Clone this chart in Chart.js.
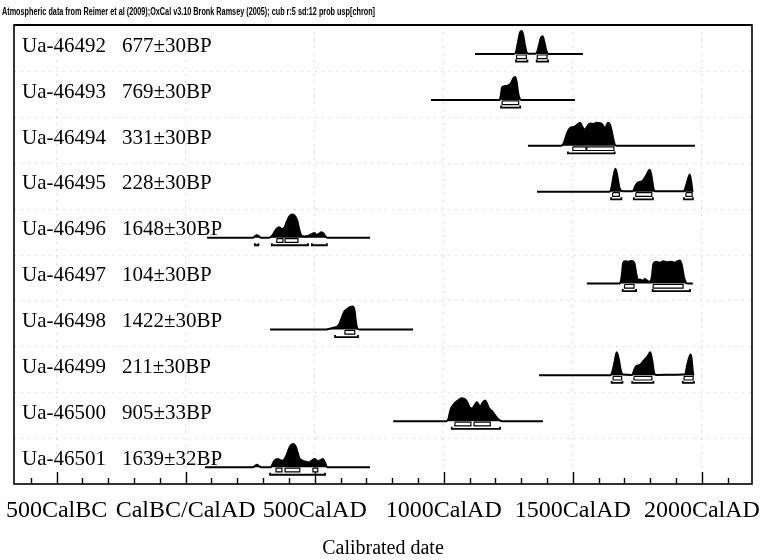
<!DOCTYPE html>
<html>
<head>
<meta charset="utf-8">
<title>Calibrated date</title>
<script src="https://cdn.jsdelivr.net/npm/chart.js@4.4.1/dist/chart.umd.min.js"></script>
<style>
  html, body { margin: 0; padding: 0; background: #fff; }
  canvas { display: block; }
</style>
</head>
<body>
<canvas id="grafica" width="760" height="560"></canvas>
<script>
// Muestras y edades radiocarbónicas
const muestras = ['Ua-46492', 'Ua-46493', 'Ua-46494', 'Ua-46495', 'Ua-46496',
                  'Ua-46497', 'Ua-46498', 'Ua-46499', 'Ua-46500', 'Ua-46501'];
const edadesBP = ['677±30BP', '769±30BP', '331±30BP', '228±30BP', '1648±30BP',
                  '104±30BP', '1422±30BP', '211±30BP', '905±33BP', '1639±32BP'];

// Eje de fechas calibradas
const añosEje = [-500, 0, 500, 1000, 1500, 2000];
const etiquetasEje = ['500CalBC', 'CalBC/CalAD', '500CalAD', '1000CalAD', '1500CalAD', '2000CalAD'];
const marcasMenores = [-600, -500, -400, -300, -200, -100, 0, 100, 200, 300, 400, 500, 600, 700,
                       800, 900, 1000, 1100, 1200, 1300, 1400, 1500, 1600, 1700, 1800, 1900, 2000, 2100];

const cabecera = 'Atmospheric data from Reimer et al (2009);OxCal v3.10 Bronk Ramsey (2005); cub r:5 sd:12 prob usp[chron]';

// Distribuciones de probabilidad [año, probabilidad relativa]
const dist46492 = [[1121,0],[1272,0],[1280,0.1],[1288,0.55],[1296,0.95],[1302,1],[1308,0.8],[1315,0.35],
                   [1322,0.05],[1330,0.01],[1352,0.01],[1360,0.05],[1368,0.35],[1376,0.7],[1383,0.77],
                   [1390,0.5],[1397,0.15],[1404,0],[1539,0]];
const dist46493 = [[950,0],[1216,0],[1221,0.2],[1226,0.55],[1236,0.6],[1248,0.62],[1260,0.72],
                   [1270,0.95],[1276,1],[1282,0.8],[1288,0.3],[1295,0.03],[1300,0],[1508,0]];
const dist46494 = [[1326,0],[1455,0],[1464,0.1],[1476,0.5],[1490,0.78],[1502,0.82],[1515,0.9],
                   [1528,1],[1538,0.8],[1547,0.7],[1556,0.85],[1567,0.97],[1580,0.95],[1592,1],
                   [1606,0.98],[1616,0.9],[1625,0.75],[1636,1],[1646,0.85],[1654,0.45],[1661,0.1],
                   [1668,0],[1973,0]];
const dist46495 = [[1361,0],[1642,0],[1650,0.2],[1657,0.65],[1665,1],[1672,0.7],[1680,0.2],[1688,0.04],
                   [1700,0.02],[1732,0.02],[1742,0.25],[1752,0.4],[1768,0.45],[1784,0.7],[1798,0.95],
                   [1806,0.6],[1812,0.15],[1820,0.02],[1930,0.02],[1938,0.25],[1946,0.55],[1953,0.75],
                   [1959,0.4],[1963,0.05],[1965,0]];
const dist46496 = [[83,0],[262,0],[268,0.06],[276,0.1],[284,0.06],[290,0],[322,0],[332,0.05],
                   [342,0.2],[352,0.38],[362,0.45],[372,0.38],[382,0.42],[392,0.7],[402,0.92],
                   [412,1],[422,0.95],[432,0.75],[440,0.35],[448,0.1],[460,0.05],[476,0.08],
                   [488,0.15],[498,0.2],[508,0.12],[516,0.16],[526,0.24],[534,0.18],[542,0.05],
                   [548,0],[714,0]];
const dist46497 = [[1554,0],[1682,0],[1689,0.3],[1695,0.9],[1702,0.97],[1716,0.95],[1728,0.98],
                   [1738,0.9],[1746,0.4],[1752,0.15],[1760,0.18],[1770,0.12],[1780,0.2],[1790,0.1],
                   [1800,0.08],[1806,0.3],[1812,0.85],[1822,0.95],[1836,0.9],[1850,0.97],[1864,0.92],
                   [1880,0.95],[1894,0.9],[1906,0.97],[1914,1],[1922,0.8],[1930,0.3],[1938,0.05],
                   [1946,0],[1965,0]];
const dist46498 = [[327,0],[540,0],[556,0.03],[572,0.08],[586,0.12],[596,0.25],[606,0.55],
                   [616,0.8],[628,0.9],[638,0.98],[646,1],[654,0.85],[660,0.3],[666,0.03],
                   [672,0],[881,0]];
const dist46499 = [[1369,0],[1646,0],[1654,0.2],[1662,0.6],[1670,1],[1678,0.7],[1686,0.2],
                   [1694,0.04],[1730,0.02],[1738,0.25],[1746,0.4],[1760,0.45],[1772,0.6],
                   [1788,0.8],[1800,1],[1808,0.6],[1815,0.1],[1822,0.02],[1900,0.03],[1935,0.05],
                   [1942,0.4],[1950,0.75],[1957,0.9],[1962,0.5],[1966,0.05],[1969,0]];
const dist46500 = [[804,0],[1010,0],[1018,0.1],[1026,0.5],[1040,0.75],[1055,0.9],[1068,1],
                   [1080,0.97],[1090,0.85],[1100,0.6],[1110,0.55],[1120,0.7],[1128,0.82],
                   [1136,0.7],[1142,0.65],[1150,0.8],[1160,0.9],[1168,0.75],[1176,0.55],
                   [1186,0.45],[1196,0.3],[1206,0.15],[1216,0.05],[1226,0],[1384,0]];
const dist46501 = [[75,0],[260,0],[268,0.05],[276,0.1],[284,0.05],[292,0],[330,0],[336,0.12],
                   [344,0.28],[356,0.35],[366,0.3],[376,0.28],[390,0.5],[404,0.9],[416,1],
                   [428,0.85],[440,0.4],[450,0.3],[462,0.25],[478,0.2],[490,0.3],[500,0.35],
                   [512,0.25],[522,0.3],[532,0.35],[540,0.2],[548,0],[714,0]];

// Rangos 68,2% y 95,4%
const r68_46492 = [[1282,1320],[1362,1400]];
const r95_46492 = [[1280,1324],[1360,1404]];
const r68_46493 = [[1226,1290]];
const r95_46493 = [[1222,1296]];
const r68_46494 = [[1500,1551],[1554,1659]];
const r95_46494 = [[1481,1662]];
const r68_46495 = [[1654,1680],[1744,1806],[1938,1962]];
const r95_46495 = [[1648,1688],[1736,1810],[1930,1965]];
const r68_46496 = [[353,377],[385,435]];
const r95_46496 = [[268,282],[334,474],[489,547]];
const r68_46497 = [[1700,1737],[1811,1927]];
const r95_46497 = [[1693,1745],[1809,1954]];
const r68_46498 = [[617,655]];
const r95_46498 = [[579,668]];
const r68_46499 = [[1656,1689],[1737,1806],[1931,1966]];
const r95_46499 = [[1650,1692],[1730,1812],[1926,1969]];
const r68_46500 = [[1043,1105],[1117,1180]];
const r95_46500 = [[1031,1218]];
const r68_46501 = [[350,373],[385,442],[493,512]];
const r95_46501 = [[327,540]];

const filas = [
    { dist: dist46492, r68: r68_46492, r95: r95_46492 },
    { dist: dist46493, r68: r68_46493, r95: r95_46493 },
    { dist: dist46494, r68: r68_46494, r95: r95_46494 },
    { dist: dist46495, r68: r68_46495, r95: r95_46495 },
    { dist: dist46496, r68: r68_46496, r95: r95_46496 },
    { dist: dist46497, r68: r68_46497, r95: r95_46497 },
    { dist: dist46498, r68: r68_46498, r95: r95_46498 },
    { dist: dist46499, r68: r68_46499, r95: r95_46499 },
    { dist: dist46500, r68: r68_46500, r95: r95_46500 },
    { dist: dist46501, r68: r68_46501, r95: r95_46501 }
];

const fuenteSerif = "'Liberation Serif', 'Times New Roman', serif";

// Cajas del rango 68% (rectángulos huecos bajo la curva)
function puntosCaja(rangos) {
    const pts = [];
    rangos.forEach(([a, b]) => {
        pts.push({x: a, y: -0.04}, {x: b, y: -0.04}, {x: b, y: -0.2}, {x: a, y: -0.2}, {x: a, y: -0.04});
        pts.push({x: b, y: null});
    });
    return pts;
}

// Corchetes del rango 95%
function puntosCorchete(rangos) {
    const pts = [];
    rangos.forEach(([a, b]) => {
        pts.push({x: a, y: -0.24}, {x: a, y: -0.33}, {x: b, y: -0.33}, {x: b, y: -0.24});
        pts.push({x: b, y: null});
    });
    return pts;
}

const datasets = [];
const scales = {
    x: {
        type: 'linear',
        min: -665,
        max: 2194,
        afterBuildTicks: (s) => { s.ticks = añosEje.map(v => ({ value: v })); },
        afterFit: (s) => {
            s.height = 76;
            // las etiquetas de los extremos no deben encoger el área
            s.paddingLeft = 0;
            s.paddingRight = 0;
        },
        ticks: {
            autoSkip: false,
            maxRotation: 0,
            padding: 12,
            color: '#000',
            font: { family: fuenteSerif, size: 24 },
            callback: (v) => etiquetasEje[añosEje.indexOf(v)]
        },
        grid: { color: 'rgba(0,0,0,0.13)', drawTicks: false },
        border: { display: false, dash: [2, 5] },
        title: {
            display: true,
            text: 'Calibrated date',
            color: '#000',
            font: { family: fuenteSerif, size: 20 },
            padding: { top: 0, bottom: -1 }
        }
    }
};

// Un eje por fila, apilados; el primero definido queda abajo
for (let i = filas.length - 1; i >= 0; i--) {
    scales['r' + i] = {
        type: 'linear',
        position: 'left',
        stack: 'filas',
        stackWeight: 1,
        min: -0.73,
        max: 1.26,
        ticks: { display: false },
        grid: { display: false },
        border: { display: false },
        afterFit: (s) => { s.width = 0; }
    };
}

filas.forEach((f, i) => {
    const eje = 'r' + i;
    datasets.push({
        data: f.dist.map(([x, y]) => ({ x, y })),
        yAxisID: eje,
        borderColor: '#000',
        backgroundColor: '#000',
        borderWidth: 2,
        fill: 'origin',
        pointRadius: 0,
        cubicInterpolationMode: 'monotone'
    });
    datasets.push({
        data: puntosCaja(f.r68),
        yAxisID: eje,
        borderColor: '#000',
        borderWidth: 1.2,
        fill: false,
        pointRadius: 0,
        spanGaps: false
    });
    datasets.push({
        data: puntosCorchete(f.r95),
        yAxisID: eje,
        borderColor: '#000',
        borderWidth: 1.8,
        fill: false,
        pointRadius: 0,
        spanGaps: false
    });
});

// Marco, separadores, marcas del eje y rótulos de cada muestra
const marcoPlugin = {
    id: 'marco',
    beforeDatasetsDraw(chart) {
        const { ctx, chartArea: a } = chart;
        ctx.save();
        ctx.strokeStyle = 'rgba(0,0,0,0.13)';
        ctx.lineWidth = 1;
        ctx.setLineDash([2, 5]);
        for (let i = 1; i < filas.length; i++) {
            const y = Math.round(chart.scales['r' + i].top) + 0.5;
            ctx.beginPath();
            ctx.moveTo(a.left, y);
            ctx.lineTo(a.right, y);
            ctx.stroke();
        }
        ctx.restore();
    },
    afterDraw(chart) {
        const { ctx, chartArea: a } = chart;
        const x = chart.scales.x;
        ctx.save();

        // marcas hacia arriba sobre el eje inferior
        ctx.strokeStyle = '#000';
        ctx.lineWidth = 1.4;
        marcasMenores.forEach(año => {
            const px = Math.round(x.getPixelForValue(año)) + 0.5;
            const largo = añosEje.includes(año) ? 12 : 6;
            ctx.beginPath();
            ctx.moveTo(px, a.bottom);
            ctx.lineTo(px, a.bottom - largo);
            ctx.stroke();
        });

        // marco
        ctx.lineWidth = 1.6;
        ctx.strokeRect(a.left, a.top, a.right - a.left, a.bottom - a.top);
        ctx.lineWidth = 2.2;
        ctx.beginPath();
        ctx.moveTo(a.left, a.top);
        ctx.lineTo(a.right, a.top);
        ctx.stroke();

        // rótulos de las muestras
        ctx.fillStyle = '#000';
        ctx.font = '21px ' + fuenteSerif;
        ctx.textBaseline = 'alphabetic';
        filas.forEach((f, i) => {
            const y = chart.scales['r' + i].getPixelForValue(0.1);
            ctx.fillText(muestras[i], a.left + 8, y);
            ctx.fillText(edadesBP[i], a.left + 108, y);
        });

        // cabecera
        ctx.font = "bold 10px 'Liberation Sans Narrow', 'Liberation Sans', Arial, sans-serif";
        ctx.fillText(cabecera, 2, 15, 373);
        ctx.restore();
    }
};

new Chart(document.getElementById('grafica'), {
    type: 'line',
    data: { datasets },
    options: {
        responsive: false,
        animation: false,
        layout: { padding: { top: 25, left: 14, right: 8, bottom: 0 } },
        plugins: {
            legend: { display: false },
            tooltip: { enabled: false }
        },
        scales
    },
    plugins: [marcoPlugin]
});
</script>
</body>
</html>
